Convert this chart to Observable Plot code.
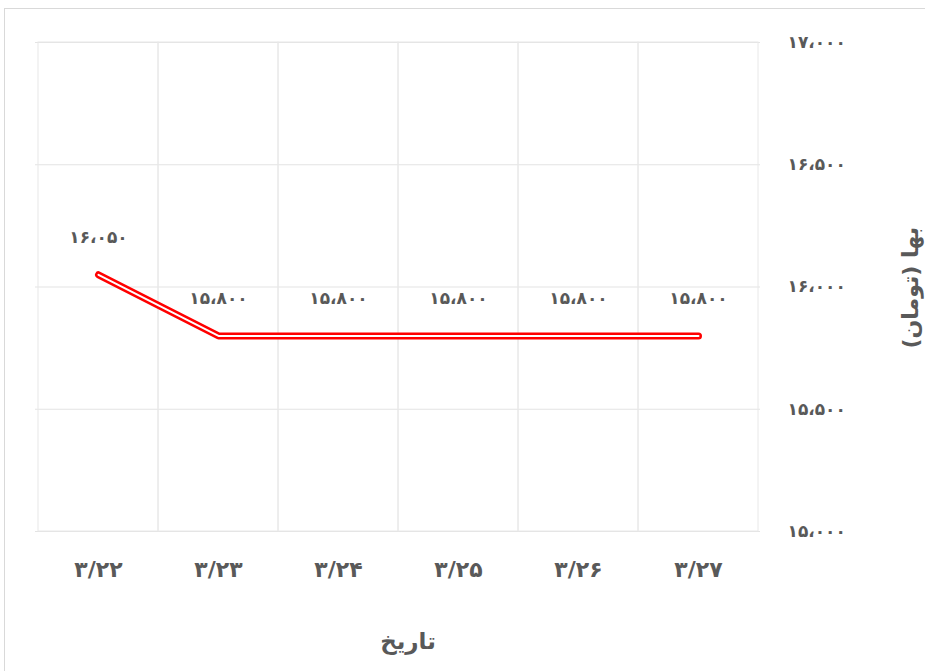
<!DOCTYPE html>
<html>
<head>
<meta charset="utf-8">
<script src="https://cdn.jsdelivr.net/npm/d3@7"></script>
<script src="https://cdn.jsdelivr.net/npm/@observablehq/plot@0.6"></script>
<style>
  html, body { margin: 0; padding: 0; background: #fff; }
  #wrap { position: relative; width: 926px; height: 672px; }
  #border { position: absolute; left: 4px; top: 8px; width: 921px; height: 663px; border: 1.5px solid #d9d9d9; border-right: none; border-bottom: none; box-sizing: border-box; pointer-events: none; }
  svg { font-family: "DejaVu Sans", sans-serif; }
</style>
</head>
<body>
<div id="wrap"><div id="border"></div></div>
<script>
const dates = ["3/22", "3/23", "3/24", "3/25", "3/26", "3/27"];
const prices = [16050, 15800, 15800, 15800, 15800, 15800];
const yTicks = [15000, 15500, 16000, 16500, 17000];
const xTitle = "تاریخ";
const yTitle = "بها (تومان)";

const faDigits = "۰۱۲۳۴۵۶۷۸۹";
const toFa = s => String(s).replace(/[0-9]/g, d => faDigits[+d]);
const fmtNum = v => toFa(d3.format(",")(v)).replace(/,/g, "،");

const data = dates.map((d, i) => ({date: d, price: prices[i]}));
const textColor = "#595959";

const chart = Plot.plot({
  width: 926,
  height: 672,
  marginLeft: 35,
  marginRight: 166,
  marginTop: 42,
  marginBottom: 141,
  style: {fontFamily: "DejaVu Sans, sans-serif", color: textColor, background: "transparent"},
  x: {type: "band", domain: dates, padding: 0, axis: null},
  y: {domain: [15000, 17000], axis: null},
  marks: [
    Plot.gridY(yTicks, {stroke: "#e3e3e3", strokeOpacity: 1, strokeWidth: 1}),
    Plot.cell(dates, {x: d => d, fill: "none", stroke: "#e8e8e8", strokeWidth: 1}),
    Plot.axisY(yTicks, {anchor: "right", tickSize: 0, tickPadding: 27, textAnchor: "start", tickFormat: fmtNum, fontSize: 17, fontWeight: "bold", fill: textColor, label: null}),
    Plot.axisX({anchor: "bottom", tickSize: 0, tickPadding: 30, tickFormat: toFa, fontSize: 22, fontWeight: "bold", fill: textColor, label: null}),
    Plot.lineY(data, {x: "date", y: "price", stroke: "#ff0000", strokeWidth: 7, strokeLinejoin: "miter"}),
    Plot.lineY(data, {x: "date", y: "price", stroke: "#ffffff", strokeWidth: 2, strokeLinejoin: "miter"}),
    Plot.text(data, {x: "date", y: "price", text: d => fmtNum(d.price), dy: -37, fontSize: 17, fontWeight: "bold", fill: textColor}),
    Plot.text([xTitle], {frameAnchor: "bottom", text: d => d, dy: 117, dx: 10, fontSize: 23, fontWeight: "bold", fill: textColor}),
    Plot.text([yTitle], {frameAnchor: "right", text: d => d, dx: 150, dy: -60, rotate: -90, fontSize: 22, fontWeight: "bold", fill: textColor})
  ]
});
document.getElementById("wrap").appendChild(chart);
chart.style.position = "absolute";
chart.style.left = "0";
chart.style.top = "0";
</script>
</body>
</html>
